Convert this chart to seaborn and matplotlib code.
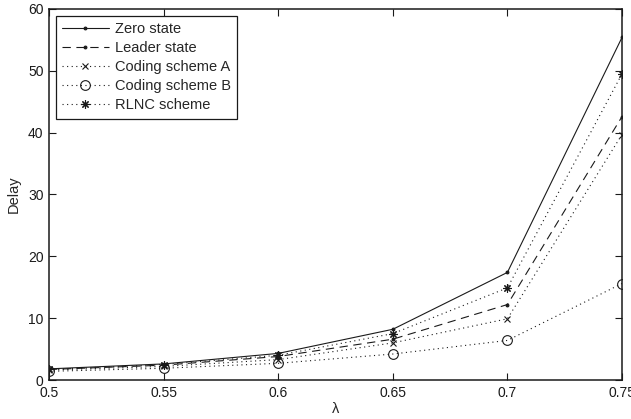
import matplotlib
matplotlib.use("Agg")
import matplotlib.pyplot as plt
import seaborn as sns
import numpy as np

lam = [0.5, 0.55, 0.6, 0.65, 0.7, 0.75]
zero_state = [1.8, 2.6, 4.3, 8.2, 17.4, 55.4]
leader_state = [1.7, 2.4, 3.8, 6.6, 12.2, 42.6]
coding_a = [1.6, 2.2, 3.3, 6.0, 9.9, 39.7]
coding_b = [1.4, 1.9, 2.7, 4.2, 6.4, 15.6]
rlnc = [1.7, 2.5, 4.0, 7.5, 14.9, 49.5]
xtick_labels = ['0.5', '0.55', '0.6', '0.65', '0.7', '0.75']

sns.set_theme(style="ticks")
plt.rcParams['font.family'] = ['Liberation Sans', 'DejaVu Sans']
plt.rcParams['lines.scale_dashes'] = False

fig = plt.figure(figsize=(6.31, 4.19), dpi=100)
ax = fig.add_axes([49/631, 1-380/419, (622-49)/631, (380-9)/419])

series = [
    ("Zero state", zero_state, '.', 4, None),
    ("Leader state", leader_state, '.', 4, (6, 4)),
    ("Coding scheme A", coding_a, 'x', 4.5, (0.8, 2.5)),
    ("Coding scheme B", coding_b, 'o', 7, (0.8, 2.5)),
    ("RLNC scheme", rlnc, (8, 2, 0), 6, (0.8, 2.5)),
]
for name, vals, mk, ms, dash in series:
    sns.lineplot(x=lam, y=vals, ax=ax, color='k', marker=mk, markersize=ms,
                 markerfacecolor='none', markeredgecolor='k', markeredgewidth=0.8,
                 linewidth=0.8, label=name)
    ln = ax.lines[-1]
    if dash is not None:
        ln.set_dashes(dash)
    if mk == '.':
        ln.set_markerfacecolor('k')

ax.set_xlim(0.5, 0.75)
ax.set_ylim(0, 60)
ax.set_xticks(lam)
ax.set_xticklabels(xtick_labels)
ax.set_yticks([0, 10, 20, 30, 40, 50, 60])
ax.tick_params(direction='in', top=True, right=True, labelsize=10, length=5, width=0.8, pad=4, colors='k')
for s in ax.spines.values():
    s.set_linewidth(1.1)
    s.set_color('k')
ax.set_xlabel('λ', fontsize=10.5, labelpad=1.5)
ax.set_ylabel('Delay', fontsize=10.5, labelpad=5)

leg = ax.legend(loc='upper left', fontsize=10.5, frameon=True, fancybox=False,
                edgecolor='k', framealpha=1, handlelength=3.2, borderpad=0.45,
                labelspacing=0.34, handletextpad=0.4, borderaxespad=0.45)
leg.get_frame().set_linewidth(0.9)

fig.savefig("out.png", dpi=100)
